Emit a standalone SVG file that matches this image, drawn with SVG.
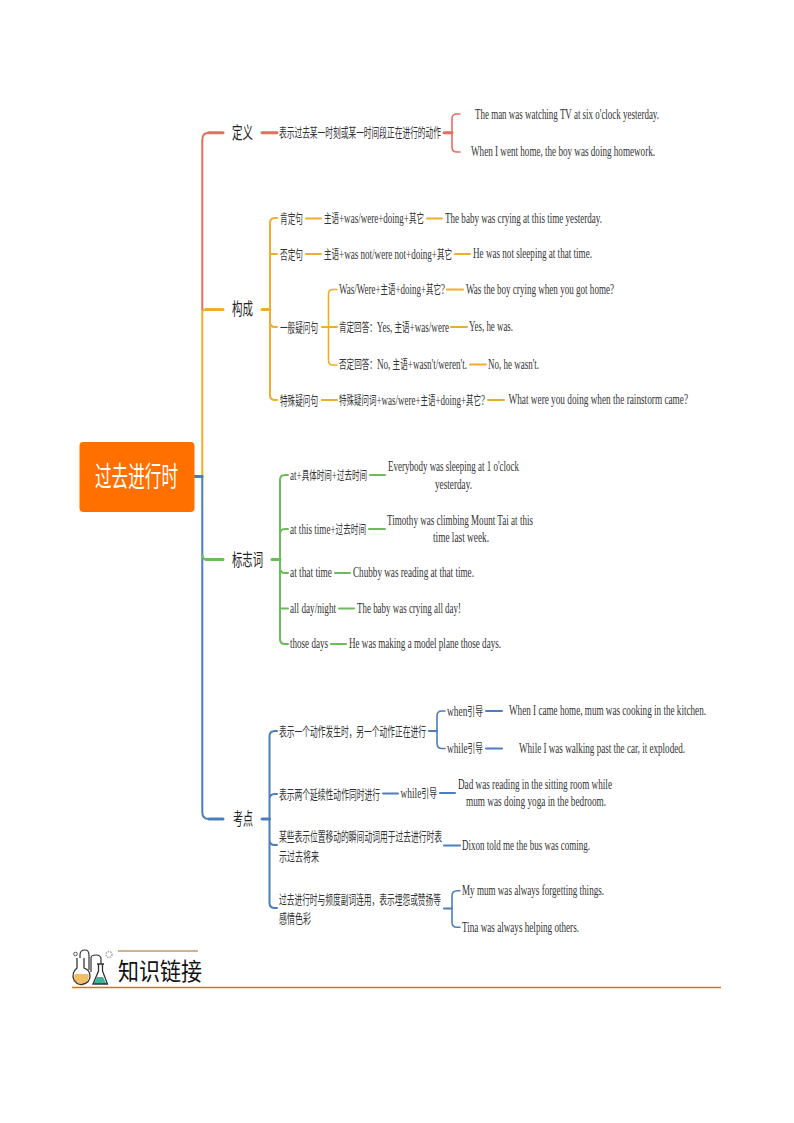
<svg xmlns="http://www.w3.org/2000/svg" width="794" height="1123" viewBox="0 0 794 1123">
<style>
text{font-family:"Liberation Serif","Noto Sans CJK SC",serif;fill:#333;font-size:15px}
tspan{font-family:"Noto Sans CJK SC","Liberation Sans",sans-serif;font-size:12.5px}
.c{font-family:"Noto Sans CJK SC","Liberation Sans",sans-serif;font-size:13px}
.t{font-family:"Noto Sans CJK SC",sans-serif;font-size:17px;fill:#222}
.root{font-family:"Noto Sans CJK SC",sans-serif;font-size:28px;fill:#fff}
.line{fill:none;stroke-linecap:round;stroke-linejoin:round}
.r{stroke:#E36F5E}.o{stroke:#EFAC2D}.g{stroke:#6CBB5A}.b{stroke:#4C7DBD}
.w3{stroke-width:3}.w2{stroke-width:2}.w1{stroke-width:1.6}
</style>
<g id="connectors">
<path class="line r w2" d="M202.3 310V140Q202.3 132.700 209 132.700"/>
<path class="line r w3" d="M209 132.700H223M262 132.700H277M444 132.700H452"/>
<path class="line r w1" d="M460 114H457Q452 114 452 119V147Q452 152 457 152H460"/>
<path class="line o w2" d="M202.3 476V312Q202.3 309.500 206 309.500"/>
<path class="line o w3" d="M206 309.500H223M262 309.500H270"/>
<path class="line o w2" d="M277 218H275Q270 218 270 223V395Q270 400 275 400H277M270 254H277M270 322Q270 327 275 327H277"/>
<path class="line o w2" d="M306 218.500H321M427 218.500H442M306 254H321M455 254H470M322 327H337M447 289.500H463M451 327H467M470 364.500H486M322 400H337M488 400H504"/>
<path class="line o w1" d="M337 289.500H333Q328.500 289.500 328.500 294V360Q328.500 365 333 365H337"/>
<path class="line b w3" d="M194 476.500H202"/>
<path class="line b w2" d="M202.3 476V812Q202.3 819 209 819"/>
<path class="line b w3" d="M209 819H223M262 819H269.500"/>
<path class="line g w3" d="M206 559.500H223M272 559.500H280"/>
<path class="line g w2" d="M202.3 555Q203 559.500 206 559.500"/>
<path class="line g w2" d="M288 475H285Q280 475 280 480V639Q280 644 285 644H288M280 534Q280 529 285 529H288M280 568Q280 573 285 573H288M280 608.500H288"/>
<path class="line g w2" d="M370 475H385M369 529H385M335 573H350M339 608.500H354M331 644H346"/>
<path class="line b w2" d="M277 731H275Q269.500 731 269.500 736V903Q269.500 908 275 908H277M269.500 799Q269.500 794 275 794H277M269.500 840Q269.500 845 275 845H277"/>
<path class="line b w2" d="M429 731H437M486 711H502M486 748.500H502M383 793.500H398M440 793H455M444 845.500H460M444 908.500H452"/>
<path class="line b w1" d="M445 711H442Q437 711 437 716V743Q437 748.500 442 748.500H445M460 890.700H457Q452 890.700 452 896V922Q452 927.300 457 927.300H460"/>
</g>
<g id="root"><rect x="79.500" y="442" width="115" height="70" rx="4" fill="#FF7000"/><text class="root" transform="matrix(.59 0 0 1 95 487)" textLength="140.700" lengthAdjust="spacingAndGlyphs">过去进行时</text></g>
<g id="n-def"><text class="t" transform="matrix(.62 0 0 1 232 139)" textLength="33.900" lengthAdjust="spacingAndGlyphs">定义</text></g>
<g id="n-def-1"><text class="c" transform="matrix(.6 0 0 1 279 137)" textLength="270" lengthAdjust="spacingAndGlyphs">表示过去某一时刻或某一时间段正在进行的动作</text></g>
<g id="n-def-2"><text transform="matrix(.64 0 0 1 475 119)" textLength="287.500" lengthAdjust="spacingAndGlyphs">The man was watching TV at six o'clock yesterday.</text></g>
<g id="n-def-3"><text transform="matrix(.64 0 0 1 471 156)" textLength="287.500" lengthAdjust="spacingAndGlyphs">When I went home, the boy was doing homework.</text></g>
<g id="n-form"><text class="t" transform="matrix(.62 0 0 1 232 315)" textLength="33.900" lengthAdjust="spacingAndGlyphs">构成</text></g>
<g id="n-pos"><text class="c" transform="matrix(.6 0 0 1 280 223)" textLength="38.300" lengthAdjust="spacingAndGlyphs">肯定句</text></g>
<g id="n-pos-1"><text transform="matrix(.65 0 0 1 324 223)" textLength="153.800" lengthAdjust="spacingAndGlyphs"><tspan>主语</tspan>+was/were+doing+<tspan>其它</tspan></text></g>
<g id="n-pos-2"><text transform="matrix(.64 0 0 1 445 222.500)" textLength="245.300" lengthAdjust="spacingAndGlyphs">The baby was crying at this time yesterday.</text></g>
<g id="n-neg"><text class="c" transform="matrix(.6 0 0 1 280 259)" textLength="38.300" lengthAdjust="spacingAndGlyphs">否定句</text></g>
<g id="n-neg-1"><text transform="matrix(.65 0 0 1 324 258.500)" textLength="196.900" lengthAdjust="spacingAndGlyphs"><tspan>主语</tspan>+was not/were not+doing+<tspan>其它</tspan></text></g>
<g id="n-neg-2"><text transform="matrix(.64 0 0 1 473 258)" textLength="185.900" lengthAdjust="spacingAndGlyphs">He was not sleeping at that time.</text></g>
<g id="n-gen"><text class="c" transform="matrix(.6 0 0 1 280 332)" textLength="63.300" lengthAdjust="spacingAndGlyphs">一般疑问句</text></g>
<g id="n-gen-1"><text transform="matrix(.65 0 0 1 339 294)" textLength="163" lengthAdjust="spacingAndGlyphs">Was/Were+<tspan>主语</tspan>+doing+<tspan>其它</tspan>?</text></g>
<g id="n-gen-2"><text transform="matrix(.64 0 0 1 466 293.500)" textLength="231.300" lengthAdjust="spacingAndGlyphs">Was the boy crying when you got home?</text></g>
<g id="n-gen-3"><text transform="matrix(.65 0 0 1 339 331.500)" textLength="169.200" lengthAdjust="spacingAndGlyphs"><tspan>肯定回答：</tspan>Yes, <tspan>主语</tspan>+was/were</text></g>
<g id="n-gen-4"><text transform="matrix(.64 0 0 1 469 331)" textLength="68.800" lengthAdjust="spacingAndGlyphs">Yes, he was.</text></g>
<g id="n-gen-5"><text transform="matrix(.65 0 0 1 339 369)" textLength="196.900" lengthAdjust="spacingAndGlyphs"><tspan>否定回答：</tspan>No, <tspan>主语</tspan>+wasn't/weren't.</text></g>
<g id="n-gen-6"><text transform="matrix(.64 0 0 1 488 368.500)" textLength="79.700" lengthAdjust="spacingAndGlyphs">No, he wasn't.</text></g>
<g id="n-spe"><text class="c" transform="matrix(.6 0 0 1 280 405)" textLength="63.300" lengthAdjust="spacingAndGlyphs">特殊疑问句</text></g>
<g id="n-spe-1"><text transform="matrix(.65 0 0 1 339 404.500)" textLength="224.600" lengthAdjust="spacingAndGlyphs"><tspan>特殊疑问词</tspan>+was/were+<tspan>主语</tspan>+doing+<tspan>其它</tspan>?</text></g>
<g id="n-spe-2"><text transform="matrix(.64 0 0 1 508.500 404)" textLength="280.500" lengthAdjust="spacingAndGlyphs">What were you doing when the rainstorm came?</text></g>
<g id="n-sig"><text class="t" transform="matrix(.62 0 0 1 232 566)" textLength="50" lengthAdjust="spacingAndGlyphs">标志词</text></g>
<g id="n-sig-1"><text transform="matrix(.65 0 0 1 290 480)" textLength="118.500" lengthAdjust="spacingAndGlyphs">at+<tspan>具体时间</tspan>+<tspan>过去时间</tspan></text></g>
<g id="n-sig-2"><text transform="matrix(.64 0 0 1 388 471)" textLength="204.700" lengthAdjust="spacingAndGlyphs">Everybody was sleeping at 1 o'clock</text><text transform="matrix(.64 0 0 1 435 489)" textLength="57.800" lengthAdjust="spacingAndGlyphs">yesterday.</text></g>
<g id="n-sig-3"><text transform="matrix(.65 0 0 1 290 533.500)" textLength="116.900" lengthAdjust="spacingAndGlyphs">at this time+<tspan>过去时间</tspan></text></g>
<g id="n-sig-4"><text transform="matrix(.64 0 0 1 387 524.500)" textLength="228.100" lengthAdjust="spacingAndGlyphs">Timothy was climbing Mount Tai at this</text><text transform="matrix(.64 0 0 1 433 542)" textLength="87.500" lengthAdjust="spacingAndGlyphs">time last week.</text></g>
<g id="n-sig-5"><text transform="matrix(.64 0 0 1 290 577)" textLength="65.600" lengthAdjust="spacingAndGlyphs">at that time</text></g>
<g id="n-sig-6"><text transform="matrix(.64 0 0 1 353 577)" textLength="189" lengthAdjust="spacingAndGlyphs">Chubby was reading at that time.</text></g>
<g id="n-sig-7"><text transform="matrix(.64 0 0 1 290 612.500)" textLength="71.900" lengthAdjust="spacingAndGlyphs">all day/night</text></g>
<g id="n-sig-8"><text transform="matrix(.64 0 0 1 357 612.500)" textLength="162.500" lengthAdjust="spacingAndGlyphs">The baby was crying all day!</text></g>
<g id="n-sig-9"><text transform="matrix(.64 0 0 1 290 648)" textLength="59.400" lengthAdjust="spacingAndGlyphs">those days</text></g>
<g id="n-sig-10"><text transform="matrix(.64 0 0 1 349 648)" textLength="237.500" lengthAdjust="spacingAndGlyphs">He was making a model plane those days.</text></g>
<g id="n-test"><text class="t" transform="matrix(.62 0 0 1 233 825)" textLength="32.300" lengthAdjust="spacingAndGlyphs">考点</text></g>
<g id="n-t1"><text class="c" transform="matrix(.6 0 0 1 279 735.500)" textLength="245" lengthAdjust="spacingAndGlyphs">表示一个动作发生时，另一个动作正在进行</text></g>
<g id="n-t1a"><text transform="matrix(.65 0 0 1 447 715.500)" textLength="55.400" lengthAdjust="spacingAndGlyphs">when<tspan>引导</tspan></text></g>
<g id="n-t1b"><text transform="matrix(.64 0 0 1 509 715)" textLength="307.800" lengthAdjust="spacingAndGlyphs">When I came home, mum was cooking in the kitchen.</text></g>
<g id="n-t1c"><text transform="matrix(.65 0 0 1 447 753)" textLength="55.400" lengthAdjust="spacingAndGlyphs">while<tspan>引导</tspan></text></g>
<g id="n-t1d"><text transform="matrix(.64 0 0 1 519 752.500)" textLength="259.400" lengthAdjust="spacingAndGlyphs">While I was walking past the car, it exploded.</text></g>
<g id="n-t2"><text class="c" transform="matrix(.6 0 0 1 279 798.500)" textLength="168.300" lengthAdjust="spacingAndGlyphs">表示两个延续性动作同时进行</text></g>
<g id="n-t2a"><text transform="matrix(.65 0 0 1 400.500 798)" textLength="56.200" lengthAdjust="spacingAndGlyphs">while<tspan>引导</tspan></text></g>
<g id="n-t2b"><text transform="matrix(.64 0 0 1 458 788.500)" textLength="240.600" lengthAdjust="spacingAndGlyphs">Dad was reading in the sitting room while</text><text transform="matrix(.64 0 0 1 466 806)" textLength="218.800" lengthAdjust="spacingAndGlyphs">mum was doing yoga in the bedroom.</text></g>
<g id="n-t3"><text class="c" transform="matrix(.6 0 0 1 279 841)" textLength="271.700" lengthAdjust="spacingAndGlyphs">某些表示位置移动的瞬间动词用于过去进行时表</text><text class="c" transform="matrix(.6 0 0 1 279 860.500)" textLength="66.700" lengthAdjust="spacingAndGlyphs">示过去将来</text></g>
<g id="n-t3a"><text transform="matrix(.64 0 0 1 462 850)" textLength="200" lengthAdjust="spacingAndGlyphs">Dixon told me the bus was coming.</text></g>
<g id="n-t4"><text class="c" transform="matrix(.6 0 0 1 279 904)" textLength="270" lengthAdjust="spacingAndGlyphs">过去进行时与频度副词连用，表示埋怨或赞扬等</text><text class="c" transform="matrix(.6 0 0 1 279 922.500)" textLength="53.300" lengthAdjust="spacingAndGlyphs">感情色彩</text></g>
<g id="n-t4a"><text transform="matrix(.64 0 0 1 462 894.500)" textLength="221.900" lengthAdjust="spacingAndGlyphs">My mum was always forgetting things.</text></g>
<g id="n-t4b"><text transform="matrix(.64 0 0 1 462 932)" textLength="182.800" lengthAdjust="spacingAndGlyphs">Tina was always helping others.</text></g>
<g id="footer">
<path d="M72 987.500H721" fill="none" stroke="#D2741C" stroke-width="1.500"/>
<path d="M118 951H198" fill="none" stroke="#A5651F" stroke-width="1"/>
<text transform="matrix(.875 0 0 1 118 980)" style="font-family:'Noto Sans CJK SC',sans-serif;font-size:24px;fill:#111" textLength="96" lengthAdjust="spacingAndGlyphs">知识链接</text>
<path d="M74.500 974H88.500Q90 981 83 984H78Q73 981 74.500 974Z" fill="#F3BE62"/>
<path d="M77 958V968Q71 973 74 980Q77 985 82 984.500Q90 983 90 976Q90 970 84 968V958" fill="none" stroke="#333" stroke-width="1.300"/>
<path d="M80 958V955Q80 950 85 950Q89 950 89 955V970M91 972V958Q91 955 96 955Q101 955 101 959V964" fill="none" stroke="#333" stroke-width="1.200"/>
<path d="M97 977H103L106.500 984H93.500Z" fill="#3EB39A"/>
<path d="M97 964H104M98.500 964V971L93 984H107.500L102.500 971V964" fill="none" stroke="#333" stroke-width="1.300"/>
<circle cx="75.500" cy="954" r="1.800" fill="none" stroke="#333" stroke-width="0.800"/>
<circle cx="109" cy="954.500" r="3" fill="none" stroke="#aaa" stroke-width="1.500" stroke-dasharray="1.500 1"/>
</g>
</svg>
